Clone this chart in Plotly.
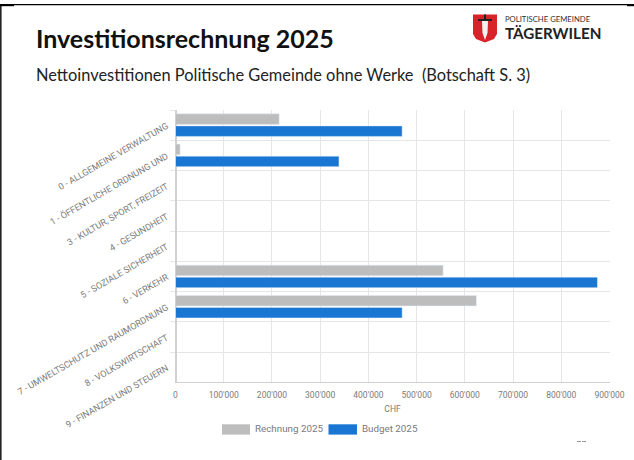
import plotly.graph_objects as go

W, H = 634, 460
PLOT_L, PLOT_R, PLOT_T, PLOT_B = 175.5, 609.5, 110, 382.3

categories = [
    "0 - ALLGEMEINE VERWALTUNG",
    "1 - ÖFFENTLICHE ORDNUNG UND",
    "3 - KULTUR, SPORT, FREIZEIT",
    "4 - GESUNDHEIT",
    "5 - SOZIALE SICHERHEIT",
    "6 - VERKEHR",
    "7 - UMWELTSCHUTZ UND RAUMORDNUNG",
    "8 - VOLKSWIRTSCHAFT",
    "9 - FINANZEN UND STEUERN",
]
rechnung_2025 = [215000, 9500, 0, 0, 0, 555000, 624000, 0, 0]
budget_2025 = [470000, 339000, 0, 0, 0, 875000, 470000, 0, 0]
x_ticks = [0, 100000, 200000, 300000, 400000, 500000, 600000, 700000, 800000, 900000]
x_tick_labels = ["0", "100'000", "200'000", "300'000", "400'000", "500'000",
                 "600'000", "700'000", "800'000", "900'000"]

GREY = "#bdbdbd"
BLUE = "#1976d2"
TEXT = "#7a7a7a"
GRID = "#e6e6e6"

fig = go.Figure()
fig.add_bar(name="Rechnung 2025", y=categories, x=rechnung_2025, orientation="h",
            marker_color=GREY)
fig.add_bar(name="Budget 2025", y=categories, x=budget_2025, orientation="h",
            marker_color=BLUE)


# With zero margins, paper coordinates span the whole page.
def px(x):
    return x / W


def py(y):
    return 1 - y / H


def rect(x0, y0, x1, y1, color):
    return dict(type="rect", xref="paper", yref="paper", x0=px(x0), x1=px(x1),
                y0=py(y0), y1=py(y1), fillcolor=color, line_width=0, layer="above")


def path(points, color):
    d = "M" + "L".join(f"{px(a):.5f},{py(b):.5f}" for a, b in points) + "Z"
    return dict(type="path", xref="paper", yref="paper", path=d, fillcolor=color,
                line_width=0, layer="above")


def label(x, y, text, size, color, family="Lato", anchor="left", weight=None):
    return dict(xref="paper", yref="paper", x=px(x), y=py(y), text=text, showarrow=False,
                xanchor=anchor, yanchor="middle", borderpad=0, borderwidth=0, align="left",
                font=dict(family=family, size=size, color=color, weight=weight))


shapes = [
    # page frame
    rect(0, 4, W, 5.3, "#000000"),
    rect(0, 4, 1.6, H, "#222222"),
    rect(0, 4, 14, 6.2, "#000000"),
    rect(627, 4, W, 6.2, "#000000"),
    # legend swatches
    rect(222, 424.3, 250, 434.6, GREY),
    rect(328.5, 424.3, 357, 434.6, BLUE),
    # crest: red shield, dark hilt, pale blade
    path([(473, 14.5), (497, 14.5), (497, 34), (494, 39), (485, 42.5), (476, 39), (473, 34)], "#d8232a"),
    path([(484, 14.5), (486, 14.5), (486, 21), (484, 21)], "#222222"),
    path([(478, 19), (492, 19), (492, 21), (478, 21)], "#222222"),
    path([(482, 21), (488, 21), (487.5, 33), (485, 40), (482.5, 33)], "#f2f2f2"),
    # marks at the page foot
    rect(577, 441, 581, 442, "#999999"),
    rect(582, 441, 586, 442, "#999999"),
]

annotations = [
    label(36, 37.5, "Investitionsrechnung 2025", 25, "#111111", weight="bold"),
    label(36, 74.3, "Nettoinvestitionen Politische Gemeinde ohne Werke  (Botschaft S. 3)", 16.4, "#222222"),
    label(505, 18.5, "POLITISCHE GEMEINDE", 7.7, "#333333"),
    label(505, 33, "TÄGERWILEN", 15.2, "#222222", weight="bold"),
    label(254.5, 428.5, "Rechnung 2025", 9.8, TEXT, family="Roboto"),
    label(362, 428.5, "Budget 2025", 9.8, TEXT, family="Roboto"),
]

fig.update_layout(
    width=W, height=H, autosize=False,
    paper_bgcolor="white", plot_bgcolor="white",
    margin=dict(l=0, r=0, t=0, b=0, pad=0),
    barmode="group", bargap=0.205, bargroupgap=0.125,
    showlegend=False, shapes=shapes, annotations=annotations,
    font=dict(family="Roboto", size=8.5, color=TEXT),
    xaxis=dict(domain=[px(PLOT_L), px(PLOT_R)], automargin=False,
               range=[0, 900000], tickvals=x_ticks, ticktext=x_tick_labels,
               tickangle=0, ticklabelstandoff=4,
               gridcolor=GRID, gridwidth=1, showline=True, linecolor="#d0d0d0", zeroline=True,
               zerolinecolor="#d0d0d0", ticks="", tickfont=dict(size=8.5, color=TEXT),
               title=dict(text="CHF", font=dict(size=8.5, color=TEXT), standoff=7)),
    yaxis=dict(domain=[py(PLOT_B), py(PLOT_T)], automargin=False,
               type="category", autorange="reversed", categoryorder="array",
               categoryarray=categories, tickson="boundaries", ticks="outside", ticklen=5,
               tickcolor=GRID, showgrid=True, gridcolor=GRID, gridwidth=1,
               tickangle=-30, ticklabelstandoff=6, showline=True, linecolor="#d0d0d0",
               tickfont=dict(size=9, color=TEXT)),
)

fig.write_html("out.html", config=dict(displayModeBar=False))
